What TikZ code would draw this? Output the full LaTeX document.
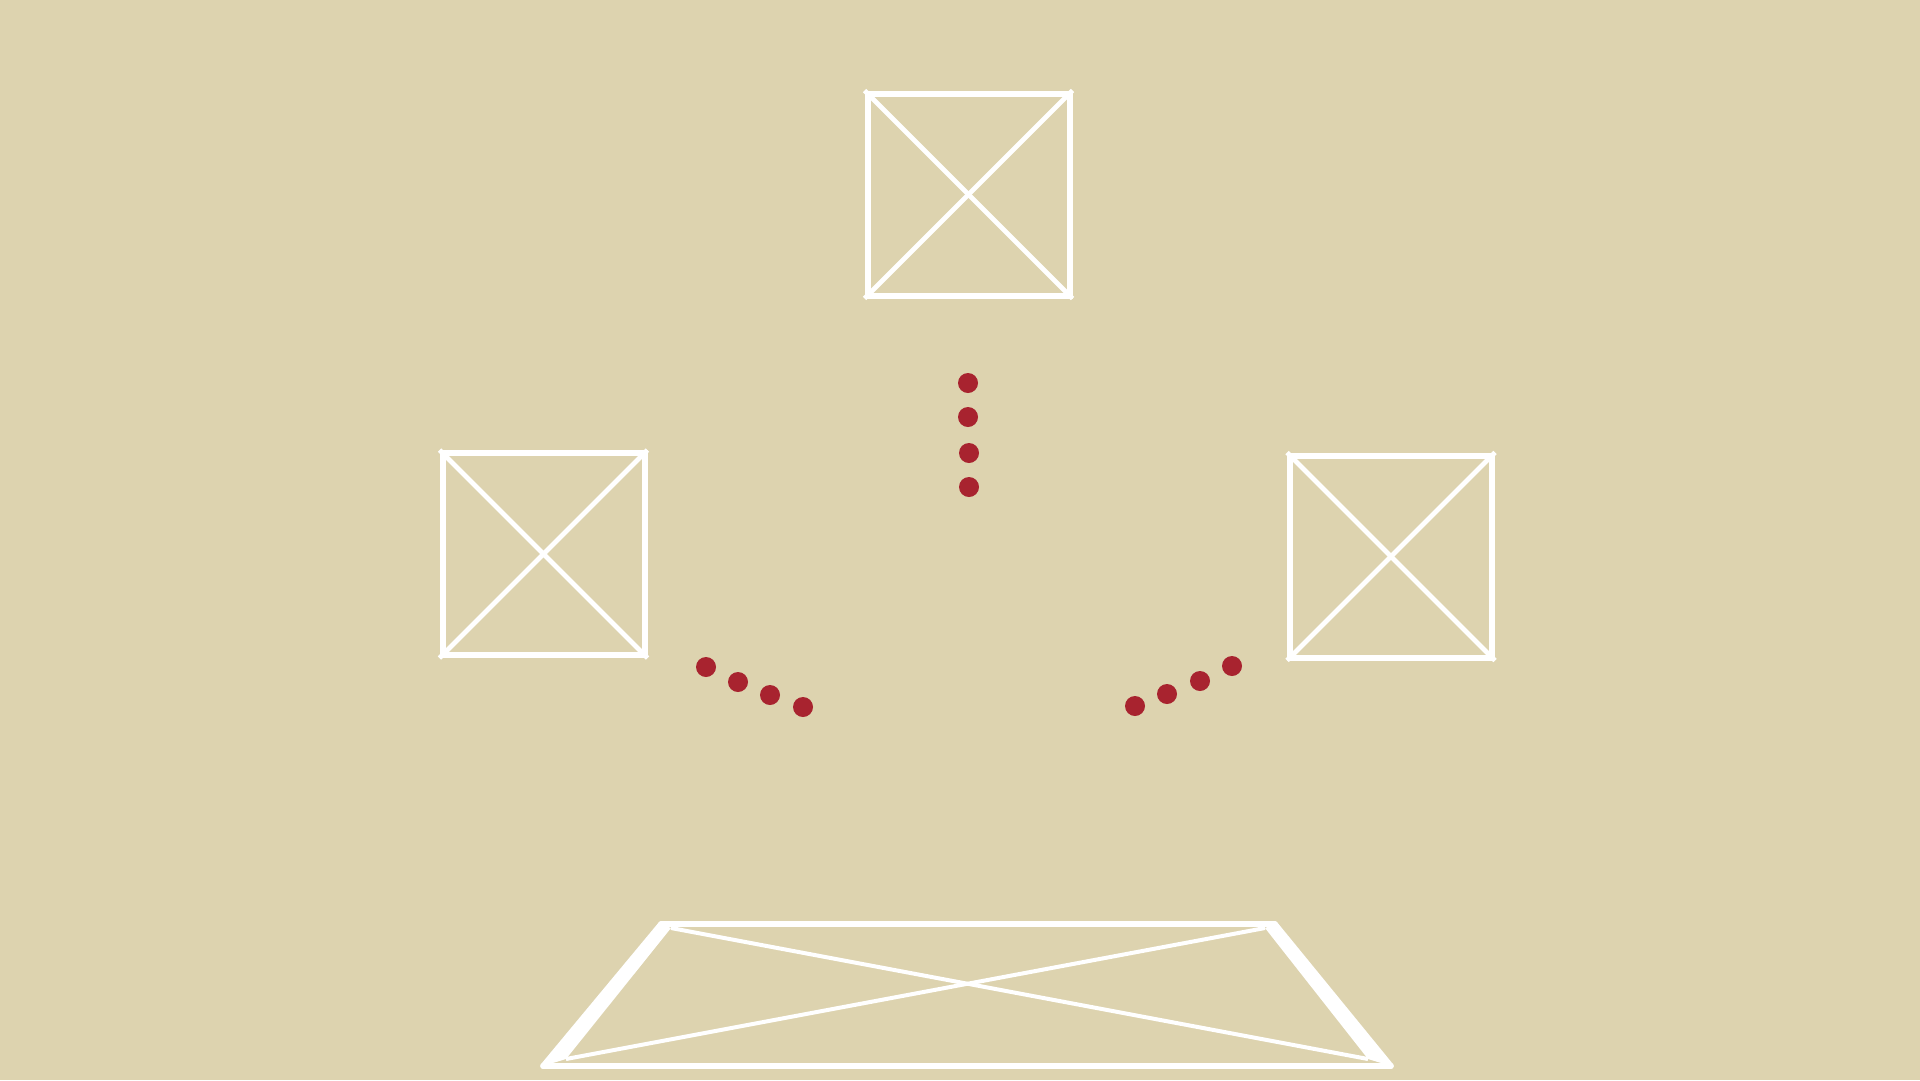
\documentclass[tikz,border=0pt]{standalone}
\definecolor{bgc}{RGB}{221,211,175}
\definecolor{dotc}{RGB}{168,35,47}
\begin{document}
\begin{tikzpicture}[x=1pt,y=-1pt,
  xbox/.style={draw=white,line width=6pt,minimum width=202pt,minimum height=202pt,inner sep=0pt},
  diag/.style={draw=white,line width=4.8pt},
  fdiag/.style={draw=white,line width=4pt},
  reddot/.style={circle,fill=dotc,minimum size=20pt,inner sep=0pt},
  edge/.style={draw=white,line width=5.5pt,line join=round,line cap=round}]
\fill[bgc] (0,0) rectangle (1920,1080);
\useasboundingbox (0,0) rectangle (1920,1080);
% boxes
\node[xbox] (top) at (968.5,194.5) {};
\node[xbox] (left) at (543.5,554) {};
\node[xbox] (right) at (1391,556.5) {};
\foreach \b in {top,left,right}{
  \draw[diag] (\b.north west) -- (\b.south east);
  \draw[diag] (\b.north east) -- (\b.south west);
}
% dots
\node[reddot] (t1) at (968,383) {};
\node[reddot] (t2) at (968,417) {};
\node[reddot] (t3) at (969,453) {};
\node[reddot] (t4) at (969,487) {};
\node[reddot] (l1) at (706,667) {};
\node[reddot] (l2) at (738,682) {};
\node[reddot] (l3) at (770,695) {};
\node[reddot] (l4) at (803,707) {};
\node[reddot] (r1) at (1135,706) {};
\node[reddot] (r2) at (1167,694) {};
\node[reddot] (r3) at (1200,681) {};
\node[reddot] (r4) at (1232,666) {};
% floor trapezoid
\coordinate (TL) at (661,924);
\coordinate (TR) at (1275,924);
\coordinate (BR) at (1391,1066);
\coordinate (BL) at (543,1066);
\coordinate (iTL) at (671,928);
\coordinate (iTR) at (1265,928);
\coordinate (iBL) at (566,1059);
\coordinate (iBR) at (1368,1059);
\fill[white] (TL) -- (iTL) -- (iBL) -- (BL) -- cycle;
\fill[white] (TR) -- (iTR) -- (iBR) -- (BR) -- cycle;
\draw[edge] (TL) -- (TR);
\draw[edge] (BL) -- (BR);
\draw[edge] (TL) -- (BL);
\draw[edge] (TR) -- (BR);
\draw[fdiag] (iTL) -- (iBR);
\draw[fdiag] (iTR) -- (iBL);
\end{tikzpicture}
\end{document}
